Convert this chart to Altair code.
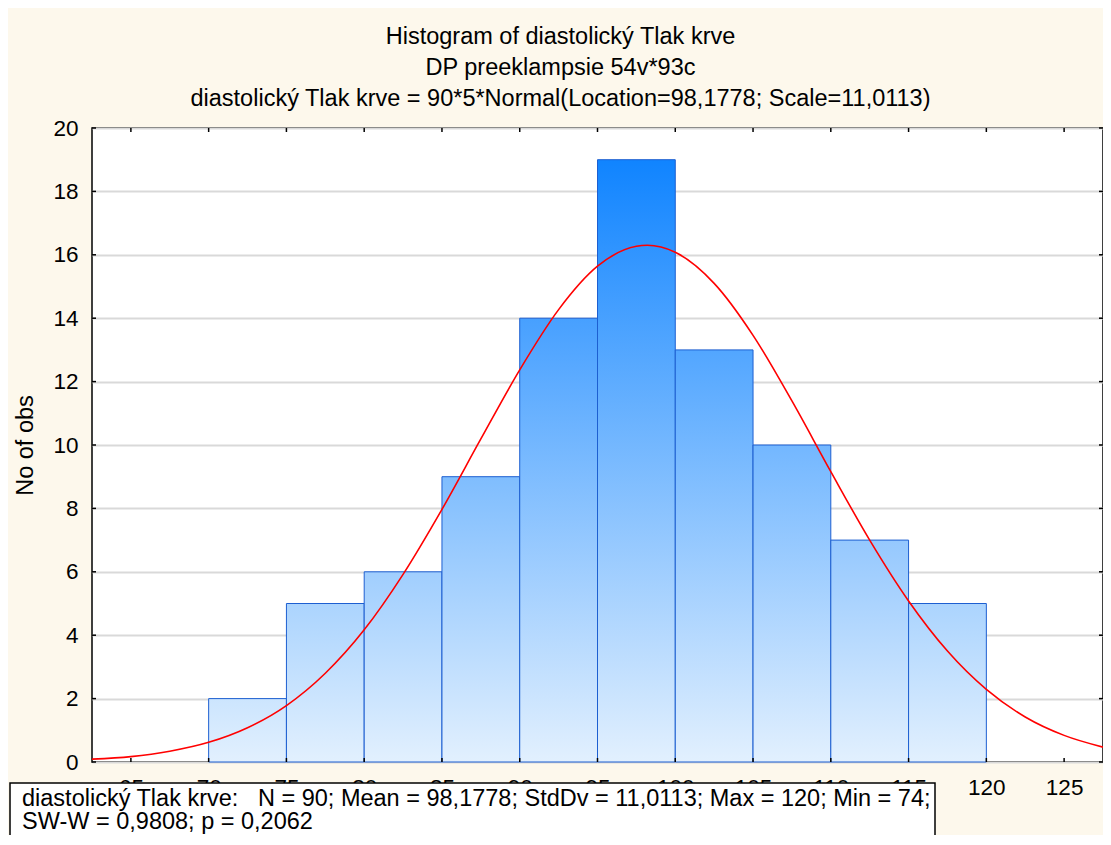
import altair as alt
import pandas as pd

# ---- data ----
bin_start = [70, 75, 80, 85, 90, 95, 100, 105, 110, 115]
bin_end = [75, 80, 85, 90, 95, 100, 105, 110, 115, 120]
counts = [2, 5, 6, 9, 14, 19, 13, 10, 7, 5]

curve_x = [62.5, 65, 67.5, 70, 72.5, 75, 77.5, 80, 82.5, 85, 87.5, 90, 92.5, 95,
           97.5, 98.2, 100, 102.5, 105, 107.5, 110, 112.5, 115, 117.5, 120, 122.5,
           125, 127.5]
curve_y = [0.09, 0.17, 0.34, 0.62, 1.08, 1.78, 2.80, 4.17, 5.92, 7.97, 10.19, 12.37,
           14.27, 15.64, 16.27, 16.30, 16.08, 15.10, 13.46, 11.39, 9.16, 7.00, 5.08,
           3.50, 2.29, 1.42, 0.84, 0.47]

x_ticks = [65, 70, 75, 80, 85, 90, 95, 100, 105, 110, 115, 120, 125]
y_ticks = [0, 2, 4, 6, 8, 10, 12, 14, 16, 18, 20]

title_lines = [
    "Histogram of diastolický Tlak krve",
    "DP preeklampsie 54v*93c",
    "diastolický Tlak krve = 90*5*Normal(Location=98,1778; Scale=11,0113)",
]
stats_line1 = "diastolický Tlak krve:\u00a0\u00a0\u00a0N = 90; Mean = 98,1778; StdDv = 11,0113; Max = 120; Min = 74;"
stats_line2 = "SW-W = 0,9808; p = 0,2062"

FONT = "Liberation Sans"
W, H = 1011, 634

bars_df = pd.DataFrame({"start": bin_start, "end": bin_end, "count": counts})
curve_df = pd.DataFrame({"x": curve_x, "y": curve_y})
xt_df = pd.DataFrame({"x": x_ticks})
yt_df = pd.DataFrame({"y": y_ticks})

xscale = alt.Scale(domain=[62.5, 127.5], nice=False, zero=False)
yscale = alt.Scale(domain=[0, 20], nice=False)

LOW = (226, 240, 254)
HIGH = (16, 132, 255)


def shade(v):
    t = v / 19.0
    c = [round(LOW[i] + (HIGH[i] - LOW[i]) * t) for i in range(3)]
    return "#%02x%02x%02x" % tuple(c)


layers = []
for i in range(len(counts)):
    sub = bars_df.iloc[[i]]
    grad = alt.Gradient(
        gradient="linear",
        stops=[alt.GradientStop(color=shade(counts[i]), offset=0),
               alt.GradientStop(color=shade(0), offset=1)],
        x1=0, x2=0, y1=0, y2=1,
    )
    layer = alt.Chart(sub).mark_bar(fill=grad, stroke="#1d5fd1", strokeWidth=1).encode(
        x=alt.X("start:Q", scale=xscale,
                axis=alt.Axis(values=x_ticks, title=None, grid=False, domain=False,
                              tickSize=0, labelPadding=14, labelFontSize=22.5,
                              labelFont=FONT, labelColor="black", labelFlush=False)),
        x2="end:Q",
        y=alt.Y("count:Q", scale=yscale,
                axis=alt.Axis(values=y_ticks, title="No of obs", grid=True,
                              gridColor="#d9d9d9", gridWidth=2, domain=False,
                              tickSize=0, labelPadding=14,
                              labelFontSize=22.5, labelFont=FONT, labelColor="black",
                              titleFontSize=23.5, titleFont=FONT, titleFontWeight="normal",
                              titleColor="black", titlePadding=15)),
        y2=alt.datum(0),
    )
    layers.append(layer)

curve = alt.Chart(curve_df).mark_line(color="#ff0000", strokeWidth=1.6,
                                      interpolate="monotone", clip=True).encode(
    x=alt.X("x:Q", scale=xscale), y=alt.Y("y:Q", scale=yscale))

tick_style = dict(color="black", strokeWidth=1.5)
ticks_bottom = alt.Chart(xt_df).mark_rule(**tick_style).encode(
    x=alt.X("x:Q", scale=xscale), y=alt.value(H), y2=alt.value(H - 4))
ticks_top = alt.Chart(xt_df).mark_rule(**tick_style).encode(
    x=alt.X("x:Q", scale=xscale), y=alt.value(0), y2=alt.value(4))
ticks_left = alt.Chart(yt_df).mark_rule(**tick_style).encode(
    y=alt.Y("y:Q", scale=yscale), x=alt.value(0), x2=alt.value(4))
ticks_right = alt.Chart(yt_df).mark_rule(**tick_style).encode(
    y=alt.Y("y:Q", scale=yscale), x=alt.value(W - 4), x2=alt.value(W))

one = pd.DataFrame({"t": [stats_line1]})
two = pd.DataFrame({"t": [stats_line2]})

box = alt.Chart(one).mark_rect(fill="white", stroke="black", strokeWidth=1.5).encode(
    x=alt.value(-82), x2=alt.value(843), y=alt.value(655), y2=alt.value(740))
text1 = alt.Chart(one).mark_text(align="left", baseline="alphabetic", fontSize=23.5,
                                 font=FONT, color="black").encode(
    x=alt.value(-70), y=alt.value(678), text="t:N")
text2 = alt.Chart(two).mark_text(align="left", baseline="alphabetic", fontSize=23.5,
                                 font=FONT, color="black").encode(
    x=alt.value(-70), y=alt.value(701), text="t:N")

chart = alt.layer(*layers, curve, ticks_bottom, ticks_top, ticks_left, ticks_right,
                  box, text1, text2).properties(
    width=W,
    height=H,
    title=alt.TitleParams(text=title_lines, fontSize=23.5, font=FONT, fontWeight="normal",
                          color="black", anchor="middle", frame="group", dx=-37,
                          lineHeight=31, offset=7),
    autosize=alt.AutoSizeParams(type="none"),
    padding={"left": 84, "top": 120, "right": 0, "bottom": 73},
    background="#fdf8ec",
).configure_view(stroke="black", strokeWidth=1.5, fill="white")

chart.save("out.html", embed_options={"renderer": "svg", "actions": False})
